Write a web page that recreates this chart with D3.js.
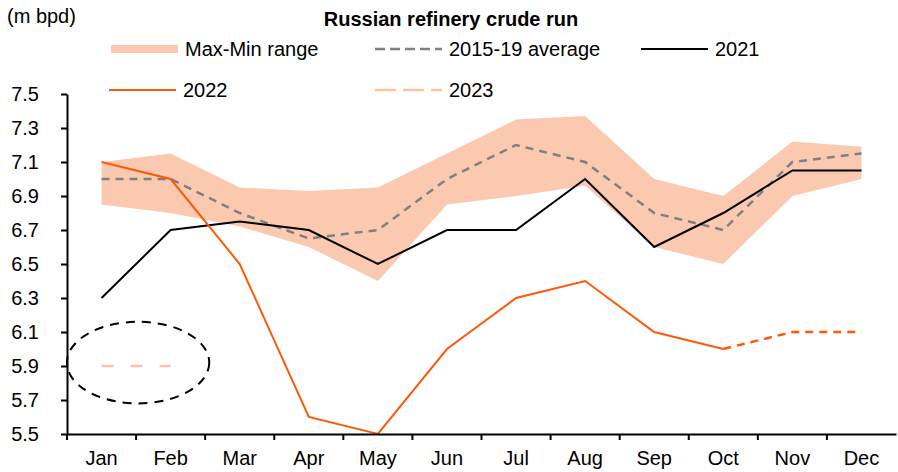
<!DOCTYPE html>
<html>
<head>
<meta charset="utf-8">
<script src="https://cdn.jsdelivr.net/npm/d3@7"></script>
<style>
  body { margin: 0; background: #fff; }
  text { font-family: Arial, "Liberation Sans", sans-serif; fill: #000; }
</style>
</head>
<body>
<div id="chart"></div>
<script>
// Russian refinery crude run, m bpd
const months = ["Jan","Feb","Mar","Apr","May","Jun","Jul","Aug","Sep","Oct","Nov","Dec"];
const rangeMax = [7.1, 7.15, 6.95, 6.93, 6.95, 7.15, 7.35, 7.37, 7.0, 6.9, 7.22, 7.19];
const rangeMin = [6.85, 6.8, 6.72, 6.6, 6.4, 6.85, 6.9, 6.96, 6.6, 6.5, 6.9, 7.0];
const avg1519 = [7.0, 7.0, 6.8, 6.65, 6.7, 7.0, 7.2, 7.1, 6.8, 6.7, 7.1, 7.15];
const y2021 = [6.3, 6.7, 6.75, 6.7, 6.5, 6.7, 6.7, 7.0, 6.6, 6.8, 7.05, 7.05];
const y2022 = [7.1, 7.0, 6.5, 5.6, 5.5, 6.0, 6.3, 6.4, 6.1, 6.0, null, null];
const y2022proj = [null, null, null, null, null, null, null, null, null, 6.0, 6.1, 6.1];
const y2023 = [5.9, 5.9];
const yTicks = [5.5, 5.7, 5.9, 6.1, 6.3, 6.5, 6.7, 6.9, 7.1, 7.3, 7.5];

const width = 898, height = 472;
const margin = {top: 94, left: 67, right: 2, bottom: 38};
const innerWidth = width - margin.left - margin.right;
const innerHeight = height - margin.top - margin.bottom;
const fontSize = "20px";

const svg = d3.select("#chart")
    .append("svg")
        .attr("width", width)
        .attr("height", height);

const innerChart = svg.append("g")
    .attr("transform", `translate(${margin.left}, ${margin.top})`);

// scales
const xScale = d3.scaleBand()
    .domain(months)
    .range([0, innerWidth]);
const xMid = d => xScale(d) + xScale.bandwidth() / 2;
const yScale = d3.scaleLinear()
    .domain([5.5, 7.5])
    .range([innerHeight, 0]);

// max-min band
const area = d3.area()
    .x((d, i) => xMid(months[i]))
    .y0((d, i) => yScale(rangeMin[i]))
    .y1(d => yScale(d));
innerChart.append("path")
    .attr("d", area(rangeMax))
    .attr("fill", "#fbc9b0");

const line = d3.line()
    .defined(d => d !== null)
    .x((d, i) => xMid(months[i]))
    .y(d => yScale(d));

innerChart.append("path")
    .attr("d", line(avg1519))
    .attr("fill", "none")
    .attr("stroke", "#808080")
    .attr("stroke-width", 2.5)
    .attr("stroke-dasharray", "8,6");

innerChart.append("path")
    .attr("d", line(y2021))
    .attr("fill", "none")
    .attr("stroke", "#000")
    .attr("stroke-width", 2);

innerChart.append("path")
    .attr("d", line(y2022))
    .attr("fill", "none")
    .attr("stroke", "#fa5a0a")
    .attr("stroke-width", 2);

innerChart.append("path")
    .attr("d", line(y2022proj))
    .attr("fill", "none")
    .attr("stroke", "#fa5a0a")
    .attr("stroke-width", 2.5)
    .attr("stroke-dasharray", "8,6");

innerChart.append("path")
    .attr("d", line(y2023))
    .attr("fill", "none")
    .attr("stroke", "#fbc3a5")
    .attr("stroke-width", 2.5)
    .attr("stroke-dasharray", "12,17");

// dashed circle round the 2023 points
innerChart.append("ellipse")
    .attr("cx", xScale("Feb") + 2)
    .attr("cy", yScale(5.92))
    .attr("rx", xScale.bandwidth() * 1.03)
    .attr("ry", yScale(5.5) - yScale(5.74))
    .attr("fill", "none")
    .attr("stroke", "#000")
    .attr("stroke-width", 2)
    .attr("stroke-dasharray", "9,7");

// axes
const leftAxis = d3.axisLeft(yScale)
    .tickValues(yTicks)
    .tickFormat(d3.format(".1f"))
    .tickSize(6)
    .tickSizeOuter(0);
const yAxis = innerChart.append("g")
    .attr("class", "axis-y")
    .call(leftAxis);

const bottomAxis = d3.axisBottom(xScale).tickSize(0);
const xAxis = innerChart.append("g")
    .attr("class", "axis-x")
    .attr("transform", `translate(0, ${innerHeight})`)
    .call(bottomAxis);
// tick marks between months
xAxis.selectAll(".sep")
    .data(months)
    .enter()
    .append("line")
    .attr("x1", d => xScale(d))
    .attr("x2", d => xScale(d))
    .attr("y1", 0)
    .attr("y2", 6)
    .attr("stroke", "#000")
    .attr("stroke-width", 2);

innerChart.selectAll(".domain, .tick line")
    .attr("stroke", "#000")
    .attr("stroke-width", 2);
innerChart.selectAll(".axis-y, .axis-x")
    .attr("font-size", null)
    .attr("font-family", null);
yAxis.selectAll("text")
    .attr("x", -28)
    .style("font-size", fontSize)
    .style("fill", "#000");
xAxis.selectAll("text")
    .attr("y", 31)
    .attr("dy", 0)
    .style("font-size", fontSize)
    .style("fill", "#000");

// title and unit
svg.append("text")
    .attr("x", 451)
    .attr("y", 26)
    .attr("text-anchor", "middle")
    .style("font-size", fontSize)
    .style("font-weight", "bold")
    .text("Russian refinery crude run");
svg.append("text")
    .attr("x", 7)
    .attr("y", 23)
    .style("font-size", fontSize)
    .text("(m bpd)");

// legend
const legendItems = [
    {label: "Max-Min range", x: 111, y: 49, color: "#fbc9b0", width: 8, dash: null},
    {label: "2015-19 average", x: 375, y: 49, color: "#808080", width: 2.5, dash: "10,5"},
    {label: "2021", x: 641, y: 49, color: "#000", width: 2, dash: null},
    {label: "2022", x: 109, y: 90, color: "#fa5a0a", width: 2, dash: null},
    {label: "2023", x: 375, y: 90, color: "#fbc3a5", width: 2.5, dash: "21,7"}
];
const legend = svg.append("g")
    .selectAll("g")
    .data(legendItems)
    .enter()
    .append("g")
    .attr("transform", d => `translate(${d.x}, ${d.y})`);
legend.append("line")
    .attr("x1", 0)
    .attr("x2", 67)
    .attr("stroke", d => d.color)
    .attr("stroke-width", d => d.width)
    .attr("stroke-dasharray", d => d.dash);
legend.append("text")
    .attr("x", 74)
    .attr("y", 7)
    .style("font-size", fontSize)
    .text(d => d.label);
</script>
</body>
</html>
